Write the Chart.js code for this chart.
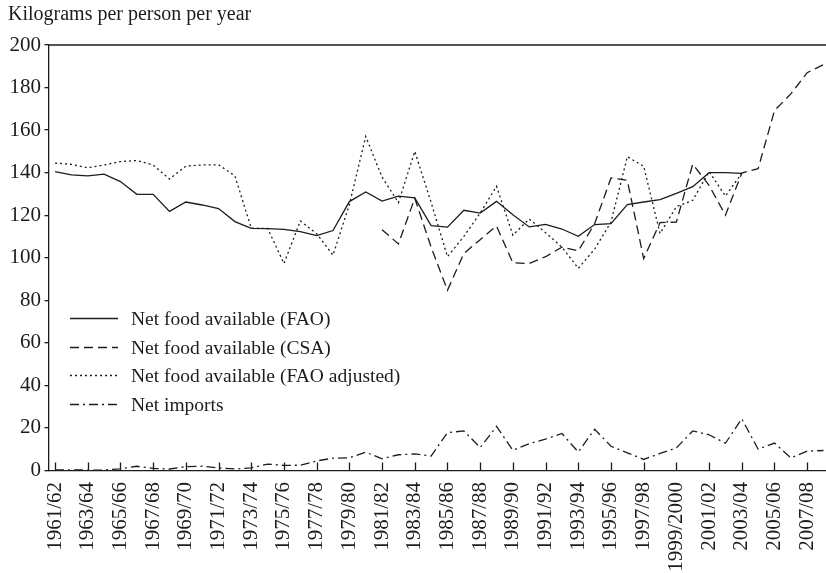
<!DOCTYPE html>
<html>
<head>
<meta charset="utf-8">
<script src="https://cdn.jsdelivr.net/npm/chart.js@4/dist/chart.umd.min.js"></script>
<style>
  html, body { margin: 0; padding: 0; background: #ffffff; }
  #wrap { position: relative; width: 826px; height: 573px; }
</style>
</head>
<body>
<div id="wrap"><canvas id="chart"></canvas></div>
<script>
// Crop seasons (one point per season)
const seasons = [
  '1961/62', '1962/63', '1963/64', '1964/65', '1965/66', '1966/67', '1967/68', '1968/69',
  '1969/70', '1970/71', '1971/72', '1972/73', '1973/74', '1974/75', '1975/76', '1976/77',
  '1977/78', '1978/79', '1979/80', '1980/81', '1981/82', '1982/83', '1983/84', '1984/85',
  '1985/86', '1986/87', '1987/88', '1988/89', '1989/90', '1990/91', '1991/92', '1992/93',
  '1993/94', '1994/95', '1995/96', '1996/97', '1997/98', '1998/99', '1999/2000', '2000/01',
  '2001/02', '2002/03', '2003/04', '2004/05', '2005/06', '2006/07', '2007/08', '2008/09'
];

// Seasons that carry an axis label
const tickSeasons = [
  '1961/62', '1963/64', '1965/66', '1967/68', '1969/70', '1971/72', '1973/74', '1975/76',
  '1977/78', '1979/80', '1981/82', '1983/84', '1985/86', '1987/88', '1989/90', '1991/92',
  '1993/94', '1995/96', '1997/98', '1999/2000', '2001/02', '2003/04', '2005/06', '2007/08'
];

const yTicks = [0, 20, 40, 60, 80, 100, 120, 140, 160, 180, 200];

// Net food available, FAO food balance (kg per person per year)
const faoNet = [
  140.5, 139.0, 138.5, 139.3, 135.8, 129.8, 129.8, 121.8, 126.2, 124.8,
  123.1, 117.0, 113.8, 113.7, 113.3, 112.3, 110.4, 112.8, 126.4, 130.9,
  126.6, 129.0, 128.1, 115.1, 114.4, 122.3, 121.0, 126.5, 120.2, 114.5,
  115.7, 113.5, 110.1, 115.6, 116.0, 125.0, 126.2, 127.3, 130.3, 133.4,
  140.0, 140.0, 139.7, null, null, null, null, null
];

// Net food available, CSA estimates
const csaNet = [
  null, null, null, null, null, null, null, null, null, null,
  null, null, null, null, null, null, null, null, null, null,
  113.2, 106.5, 128.0, 105.0, 84.7, 102.0, 108.5, 114.9, 97.6, 97.3,
  100.5, 105.0, 103.2, 116.0, 137.5, 136.4, 99.6, 116.5, 116.8, 144.0,
  134.0, 120.0, 139.8, 141.9, 169.2, 177.0, 187.0, 190.8
];

// Net food available, FAO adjusted
const faoAdjusted = [
  144.5, 143.9, 142.3, 143.6, 145.2, 145.7, 143.6, 137.0, 143.1, 143.6,
  143.7, 138.5, 113.9, 113.8, 97.3, 117.3, 111.3, 101.2, 125.0, 157.0,
  137.9, 125.9, 150.0, 126.0, 100.5, 110.0, 121.0, 133.6, 110.6, 118.2,
  111.8, 105.0, 95.0, 104.0, 116.8, 147.5, 143.0, 111.4, 124.0, 127.0,
  140.5, 129.0, 139.7, null, null, null, null, null
];

// Net imports
const netImports = [
  0.3, 0.3, 0.2, 0.2, 0.8, 2.0, 1.0, 0.7, 1.8, 2.0,
  1.2, 0.7, 1.2, 3.0, 2.4, 2.5, 4.5, 5.8, 6.0, 8.6,
  5.5, 7.4, 7.8, 6.8, 17.8, 18.6, 10.8, 20.7, 9.5, 12.6,
  14.8, 17.4, 8.7, 19.4, 11.4, 8.3, 5.2, 8.0, 10.6, 18.6,
  16.8, 12.8, 24.3, 10.0, 12.9, 5.9, 9.1, 9.4
];

const seriesNames = [
  'Net food available (FAO)',
  'Net food available (CSA)',
  'Net food available (FAO adjusted)',
  'Net imports'
];

const INK = '#1c1c1c';
const SERIF = '"Liberation Serif", "Times New Roman", serif';

const toPoints = (values) => values.map((v, i) => ({ x: i, y: v }));

function lineSet(label, values, dash) {
  return {
    label,
    data: toPoints(values),
    borderColor: INK,
    backgroundColor: INK,
    borderWidth: 1.3,
    borderDash: dash,
    pointRadius: 0,
    tension: 0,
    spanGaps: false,
    fill: false
  };
}

// Top frame line, inward x ticks and the in-plot key
const framePlugin = {
  id: 'frame',
  afterDatasetsDraw(chart) {
    const { ctx, chartArea: a, scales } = chart;
    const x = scales.x;
    ctx.save();
    ctx.strokeStyle = INK;
    ctx.lineWidth = 1.3;
    ctx.setLineDash([]);
    ctx.beginPath();
    ctx.moveTo(a.left, a.top);
    ctx.lineTo(a.right, a.top);
    x.ticks.forEach((t) => {
      const px = Math.round(x.getPixelForValue(t.value)) + 0.5;
      ctx.moveTo(px, a.bottom);
      ctx.lineTo(px, a.bottom - 8);
    });
    ctx.stroke();

    // key
    const lx = a.left + 21.5;
    const top = a.top + 273;
    const rowGap = 28.5;
    ctx.font = '19.5px ' + SERIF;
    ctx.fillStyle = INK;
    ctx.textBaseline = 'middle';
    ctx.textAlign = 'left';
    chart.data.datasets.forEach((ds, i) => {
      const y = Math.round(top + i * rowGap) + 0.5;
      ctx.setLineDash(ds.borderDash || []);
      ctx.lineWidth = ds.borderWidth;
      ctx.beginPath();
      ctx.moveTo(lx, y);
      ctx.lineTo(lx + 48, y);
      ctx.stroke();
      ctx.setLineDash([]);
      ctx.fillText(ds.label, lx + 61, y + 1);
    });
    ctx.restore();
  }
};

const chart = new Chart(document.getElementById('chart'), {
  type: 'line',
  data: {
    datasets: [
      lineSet(seriesNames[0], faoNet, []),
      lineSet(seriesNames[1], csaNet, [9, 5]),
      lineSet(seriesNames[2], faoAdjusted, [2, 3]),
      lineSet(seriesNames[3], netImports, [9, 4, 2, 4])
    ]
  },
  options: {
    responsive: true,
    maintainAspectRatio: false,
    devicePixelRatio: 1,
    animation: false,
    layout: { padding: { left: 8, right: 0, top: 0, bottom: 0 } },
    plugins: {
      legend: { display: false },
      tooltip: { enabled: false },
      title: {
        display: true,
        text: 'Kilograms per person per year',
        align: 'start',
        color: INK,
        font: { family: SERIF, size: 20, weight: 'normal' },
        padding: { top: 3, bottom: 18 }
      }
    },
    scales: {
      x: {
        type: 'linear',
        min: -0.4,
        max: 47.15,
        grid: { display: false, drawTicks: false },
        border: { display: true, color: INK, width: 1.3 },
        afterBuildTicks(scale) {
          scale.ticks = tickSeasons.map((s) => ({ value: seasons.indexOf(s) }));
        },
        afterFit(scale) {
          scale.height = 102.5;
          scale.paddingLeft = 0;
          scale.paddingRight = 0;
        },
        ticks: {
          autoSkip: false,
          minRotation: 90,
          maxRotation: 90,
          padding: 11.5,
          color: INK,
          font: { family: SERIF, size: 21 },
          callback: (v) => seasons[v]
        }
      },
      y: {
        min: 0,
        max: 200,
        afterBuildTicks(scale) {
          scale.ticks = yTicks.map((v) => ({ value: v }));
        },
        afterFit(scale) {
          scale.width = 40.5;
          scale.paddingTop = 0;
          scale.paddingBottom = 0;
        },
        grid: { display: true, drawOnChartArea: false, drawTicks: true, tickLength: 4, color: INK, lineWidth: 1.3 },
        border: { display: true, color: INK, width: 1.3 },
        ticks: {
          padding: 3.5,
          color: INK,
          font: { family: SERIF, size: 21 }
        }
      }
    }
  },
  plugins: [framePlugin]
});
</script>
</body>
</html>
